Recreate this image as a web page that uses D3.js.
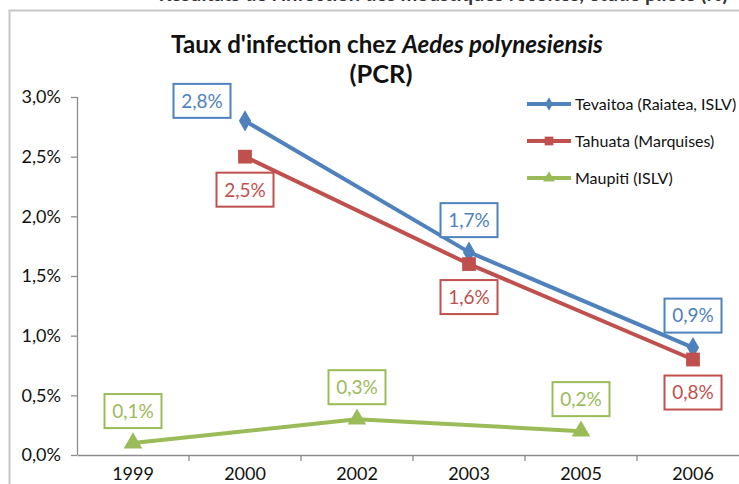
<!DOCTYPE html>
<html>
<head>
<meta charset="utf-8">
<script src="https://cdn.jsdelivr.net/npm/d3@7"></script>
<style>
  html, body { margin: 0; padding: 0; background: #fff; }
  svg { display: block; font-family: Lato, "Open Sans", sans-serif; }
</style>
</head>
<body>
<svg id="chart" width="739" height="484"></svg>
<script>
// Survey years (category axis)
const years = ["1999", "2000", "2002", "2003", "2005", "2006"];

// Infection rates (%) per site; null = not sampled that year
const tevaitoa = [null, 2.8, null, 1.7, null, 0.9];
const tahuata  = [null, 2.5, null, 1.6, null, 0.8];
const maupiti  = [0.1, null, 0.3, null, 0.2, null];

const seriesNames = ["Tevaitoa (Raiatea, ISLV)", "Tahuata (Marquises)", "Maupiti (ISLV)"];
const yTicks = [0, 0.5, 1, 1.5, 2, 2.5, 3];

const series = [
  { name: seriesNames[0], values: tevaitoa, color: "#4F81BD", symbol: d3.symbolDiamond, size: 130, labelSide: ["", "upleft", "", "up", "", "up"] },
  { name: seriesNames[1], values: tahuata,  color: "#C0504D", symbol: d3.symbolSquare,  size: 190, labelSide: ["", "down", "", "down", "", "down"] },
  { name: seriesNames[2], values: maupiti,  color: "#9BBB59", symbol: d3.symbolTriangle, size: 150, labelSide: ["up", "", "up", "", "up", ""] }
];

const svg = d3.select("#chart");
const fmt = v => d3.format(".1f")(v).replace(".", ",") + "%";

// Shrink or grow a text element's font so it spans the given width
function fitWidth(sel, width) {
  const node = sel.node();
  const fs = parseFloat(sel.attr("font-size"));
  const w = node.getComputedTextLength();
  if (w > 0) sel.attr("font-size", (fs * width / w).toFixed(2));
}

// Heading line of the surrounding document, mostly cut off at the top
svg.append("text")
  .attr("x", 728).attr("y", 1)
  .attr("text-anchor", "end")
  .attr("font-size", 20).attr("font-weight", "bold").attr("fill", "#333")
  .text("Résultats de l'infection des moustiques récoltés, étude pilote (%)");

// Chart frame
svg.append("path")
  .attr("d", "M9.5,484 L9.5,10.5 L739,10.5")
  .attr("fill", "none").attr("stroke", "#c8c8c8").attr("stroke-width", 2);

// Title
const title = svg.append("text")
  .attr("x", 387).attr("y", 53)
  .attr("text-anchor", "middle")
  .attr("font-size", 22).attr("font-weight", "bold").attr("fill", "#111")
  .call(t => {
    t.append("tspan").text("Taux d'infection chez ");
    t.append("tspan").attr("font-style", "italic").text("Aedes polynesiensis");
  });
fitWidth(title, 432);
const sub = svg.append("text")
  .attr("x", 381).attr("y", 83)
  .attr("text-anchor", "middle")
  .attr("font-size", 20).attr("font-weight", "bold").attr("fill", "#111")
  .text("(PCR)");
fitWidth(sub, 63);

// Scales
const plotLeft = 77, plotRight = 749, plotTop = 97, plotBottom = 455;
const x = d3.scaleBand().domain(years).range([plotLeft, plotRight]);
const y = d3.scaleLinear().domain([0, 3]).range([plotBottom, plotTop]);
const cx = yr => x(yr) + x.bandwidth() / 2;

// Y axis
const yAxis = svg.append("g")
  .attr("transform", `translate(${plotLeft},0)`)
  .call(d3.axisLeft(y).tickValues(yTicks).tickFormat(fmt).tickSize(6).tickPadding(10));
yAxis.select(".domain").attr("stroke", "#8c8c8c").attr("stroke-width", 1.3).attr("d", `M0.5,${plotTop}V${plotBottom}`);
yAxis.selectAll(".tick line").attr("stroke", "#8c8c8c").attr("stroke-width", 1.3);
yAxis.selectAll(".tick text").attr("font-size", 18).attr("fill", "#111").attr("font-family", "Lato, sans-serif");

// X axis
const xAxis = svg.append("g")
  .attr("transform", `translate(0,${plotBottom})`)
  .call(d3.axisBottom(x).tickSize(0).tickPadding(12));
xAxis.select(".domain").attr("stroke", "#8c8c8c").attr("stroke-width", 1.3);
xAxis.selectAll(".tick text").attr("font-size", 18).attr("fill", "#111").attr("font-family", "Lato, sans-serif");
// category separators
xAxis.selectAll(".sep").data(years.slice(1)).join("line")
  .attr("class", "sep")
  .attr("x1", d => x(d)).attr("x2", d => x(d))
  .attr("y1", 0).attr("y2", 6)
  .attr("stroke", "#8c8c8c").attr("stroke-width", 1.3);

// Lines, markers and value labels
const line = d3.line().x(d => cx(d.year)).y(d => y(d.value));

series.forEach(s => {
  const pts = years.map((yr, i) => ({ year: yr, value: s.values[i], side: s.labelSide[i] }))
    .filter(d => d.value !== null);

  svg.append("path")
    .datum(pts)
    .attr("d", line)
    .attr("fill", "none")
    .attr("stroke", s.color)
    .attr("stroke-width", 4)
    .attr("stroke-linejoin", "round");

  svg.selectAll(null).data(pts).join("path")
    .attr("transform", d => `translate(${cx(d.year)},${y(d.value)})`)
    .attr("d", d3.symbol().type(s.symbol).size(s.size))
    .attr("fill", s.color);

  const lbl = svg.selectAll(null).data(pts).join("g")
    .attr("transform", d => {
      let dx = 0, dy = 0;
      if (d.side === "up") dy = -32;
      else if (d.side === "down") dy = 33;
      else if (d.side === "upleft") { dx = -43; dy = -20; }
      return `translate(${cx(d.year) + dx},${y(d.value) + dy})`;
    });
  lbl.append("rect")
    .attr("x", -28.5).attr("y", -17).attr("width", 57).attr("height", 34)
    .attr("fill", "#fff").attr("stroke", s.color).attr("stroke-width", 2);
  lbl.append("text")
    .attr("text-anchor", "middle").attr("dy", "0.36em")
    .attr("font-size", 19).attr("fill", s.color)
    .text(d => fmt(d.value));
});

// Legend
const legend = svg.append("g").attr("transform", "translate(527,104)");
series.forEach((s, i) => {
  const g = legend.append("g").attr("transform", `translate(0,${i * 37})`);
  g.append("line").attr("x1", 0).attr("x2", 44).attr("y1", 0).attr("y2", 0)
    .attr("stroke", s.color).attr("stroke-width", 4);
  g.append("path").attr("transform", "translate(22,0)")
    .attr("d", d3.symbol().type(s.symbol).size(s.size * 0.4))
    .attr("fill", s.color);
  g.append("text").attr("x", 48).attr("dy", "0.35em")
    .attr("font-size", 16).attr("fill", "#111")
    .text(s.name);
});
</script>
</body>
</html>
